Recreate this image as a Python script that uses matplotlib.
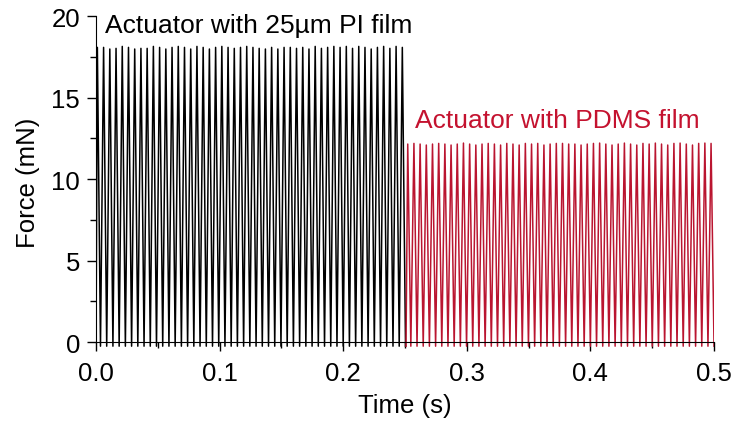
import numpy as np
import matplotlib.pyplot as plt
from matplotlib.ticker import MultipleLocator

# Peak forces (mN)
pi_peaks = [18.08, 18.08, 17.98, 18.02, 18.14, 18.08, 17.98, 18.02, 18.02, 18.14,
            18.08, 17.98, 18.08, 18.14, 18.08, 17.98, 18.14, 18.08, 17.98, 18.08,
            18.14, 18.08, 18.02, 18.08, 18.14, 18.08, 18.02, 17.98, 18.08, 17.98,
            18.08, 18.08, 18.02, 18.08, 17.98, 18.14, 18.02, 18.08, 18.14, 18.08,
            18.14, 18.02, 18.14, 18.08, 17.98, 18.08, 18.14, 18.02, 18.14, 18.08]
pdms_peaks = [12.15, 12.19, 12.15, 12.09, 12.15, 12.19, 12.15, 12.09, 12.15, 12.21,
              12.15, 12.09, 12.15, 12.19, 12.15, 12.09, 12.19, 12.15, 12.09, 12.19,
              12.15, 12.19, 12.09, 12.15, 12.19, 12.19, 12.15, 12.15, 12.09, 12.15,
              12.19, 12.21, 12.15, 12.09, 12.15, 12.21, 12.15, 12.09, 12.19, 12.15,
              12.21, 12.15, 12.09, 12.19, 12.21, 12.15, 12.09, 12.19, 12.21, 12.19]
trough = -0.25

# timing of the two runs (s)
pi_start, pi_first_peak, pi_period, pi_end = 0.0, 0.0011, 0.005035, 0.2504
pdms_start, pdms_first_peak, pdms_period, pdms_end = 0.2508, 0.2522, 0.005008, 0.5


def zigzag(t_start, t_first, period, peaks, t_end):
    t = [t_start]
    y = [trough]
    for i, p in enumerate(peaks):
        tp = t_first + i * period
        t.append(tp)
        y.append(p)
        if i < len(peaks) - 1:
            t.append(tp + period / 2)
        else:
            t.append(t_end)
        y.append(trough)
    return np.array(t), np.array(y)


red = '#BA1530'
plt.rcParams['font.family'] = ['Liberation Sans', 'DejaVu Sans']

fig = plt.figure(figsize=(7.34, 4.27), dpi=100)
ax = fig.add_axes([0.1308, 0.185, 0.842, 0.775])

t1, f1 = zigzag(pi_start, pi_first_peak, pi_period, pi_peaks, pi_end)
t2, f2 = zigzag(pdms_start, pdms_first_peak, pdms_period, pdms_peaks, pdms_end)
ax.plot(t1, f1, color='black', lw=1.1)
ax.plot(t2, f2, color=red, lw=1.1)

ax.set_xlim(0, 0.5)
ax.set_ylim(-0.3, 20)
ax.spines['top'].set_visible(False)
ax.spines['right'].set_visible(False)
ax.spines['bottom'].set_position(('data', 0))
ax.spines['left'].set_bounds(0, 20)

ax.xaxis.set_major_locator(MultipleLocator(0.1))
ax.xaxis.set_minor_locator(MultipleLocator(0.05))
ax.yaxis.set_major_locator(MultipleLocator(5))
ax.yaxis.set_minor_locator(MultipleLocator(2.5))
ax.set_xticks(np.arange(0, 0.51, 0.1))
ax.set_xticklabels(['0.0', '0.1', '0.2', '0.3', '0.4', '0.5'])
ax.tick_params(which='major', length=6.5, width=1, labelsize=18.5)
ax.tick_params(axis='x', which='major', pad=7)
ax.tick_params(axis='y', which='major', pad=5)
ax.tick_params(which='minor', length=4.3, width=1)

ax.set_xlabel('Time (s)', fontsize=18.5, labelpad=6)
ax.set_ylabel('Force (mN)', fontsize=18.5, labelpad=8)

ax.text(0.0073, 19.0, 'Actuator with 25µm PI film', fontsize=19, va='baseline', ha='left')
ax.text(0.258, 13.2, 'Actuator with PDMS film', fontsize=19, color='#C4122F', va='baseline', ha='left')

fig.savefig('out.png', dpi=100)
